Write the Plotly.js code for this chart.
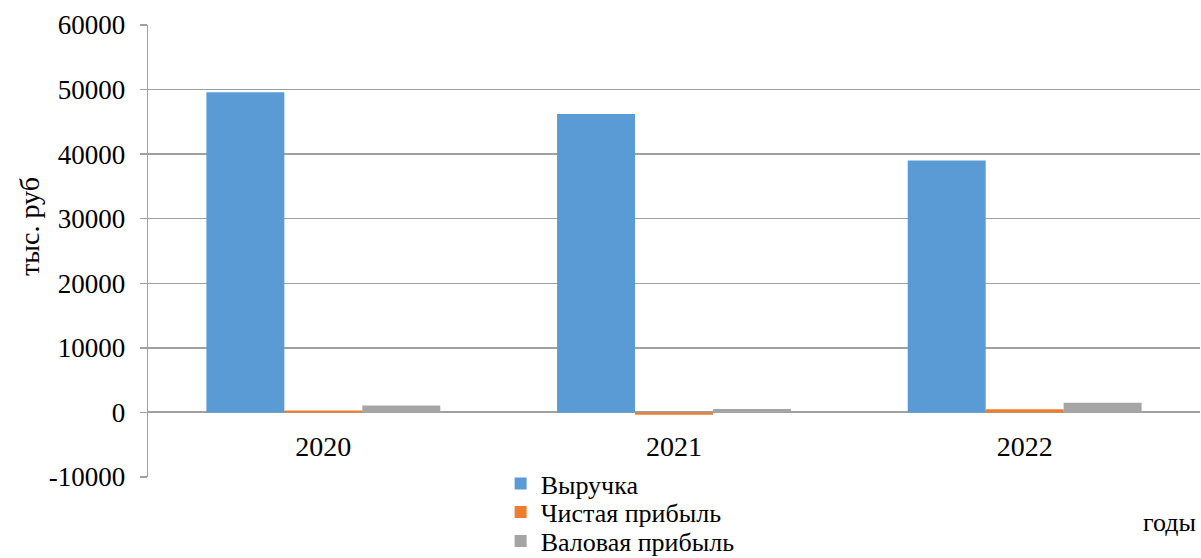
<!DOCTYPE html>
<html>
<head>
<meta charset="utf-8">
<script src="https://cdn.plot.ly/plotly-3.0.1.min.js"></script>
<style>html,body{margin:0;padding:0;background:#fff}#chart{width:1201px;height:558px}</style>
</head>
<body>
<div id="chart"></div>
<script>
const years = ['2020', '2021', '2022'];
const revenue = [49600, 46200, 39000];
const netProfit = [300, -350, 500];
const grossProfit = [1080, 520, 1500];
const seriesNames = ['Выручка', 'Чистая прибыль', 'Валовая прибыль'];
const yTicks = [-10000, 0, 10000, 20000, 30000, 40000, 50000, 60000];

const colors = ['#5b9bd5', '#ed7d31', '#a5a5a5'];
const font = '"Liberation Serif", "Times New Roman", serif';
const legendIds = ['legend', 'legend2', 'legend3'];
const legendY = [-0.0144, -0.0774, -0.1416];

const traces = [revenue, netProfit, grossProfit].map((vals, i) => ({
  type: 'bar',
  x: years,
  y: vals,
  name: seriesNames[i],
  legend: legendIds[i],
  showlegend: true,
  marker: {color: colors[i], line: {width: 0}}
}));

const layout = {
  width: 1201,
  height: 558,
  showlegend: true,
  margin: {l: 148, r: 1, t: 25, b: 81, autoexpand: false},
  paper_bgcolor: '#fff',
  plot_bgcolor: '#fff',
  barmode: 'group',
  bargap: 0.333,
  bargroupgap: 0,
  font: {family: font, color: '#000', size: 27},
  xaxis: {
    type: 'category',
    anchor: 'free',
    position: 1 / 7,
    showline: false,
    showgrid: false,
    ticks: '',
    ticklabelstandoff: 15,
    tickfont: {family: font, size: 28, color: '#000'}
  },
  yaxis: {
    range: [-10000, 60000],
    tickvals: yTicks,
    ticktext: yTicks.map(String),
    showgrid: true,
    gridcolor: '#a0a0a0',
    gridwidth: 1.3,
    zeroline: true,
    zerolinecolor: '#a0a0a0',
    zerolinewidth: 2,
    showline: true,
    linecolor: '#a0a0a0',
    linewidth: 1.3,
    ticks: 'outside',
    ticklen: 7,
    tickcolor: '#a0a0a0',
    tickwidth: 1.3,
    ticklabelstandoff: 9,
    tickfont: {family: font, size: 27, color: '#000'},
    automargin: false
  },
  annotations: [
    {
      text: 'тыс. руб',
      xref: 'paper', yref: 'paper',
      x: -0.1131, y: 0.553,
      xanchor: 'center', yanchor: 'middle',
      textangle: -90,
      showarrow: false,
      font: {family: font, size: 28, color: '#000'}
    },
    {
      text: 'годы',
      xref: 'paper', yref: 'paper',
      x: 0.998, y: -0.0996,
      xanchor: 'right', yanchor: 'middle',
      showarrow: false,
      font: {family: font, size: 26, color: '#000'}
    }
  ]
};

legendIds.forEach((id, i) => {
  layout[id] = {
    visible: true,
    orientation: 'v',
    x: 0.3352,
    xanchor: 'left',
    y: legendY[i],
    yanchor: 'middle',
    font: {family: font, size: 26, color: '#000'},
    itemwidth: 30,
    bgcolor: 'rgba(0,0,0,0)',
    borderwidth: 0
  };
});

Plotly.newPlot('chart', traces, layout, {displayModeBar: false, staticPlot: true});
</script>
</body>
</html>
